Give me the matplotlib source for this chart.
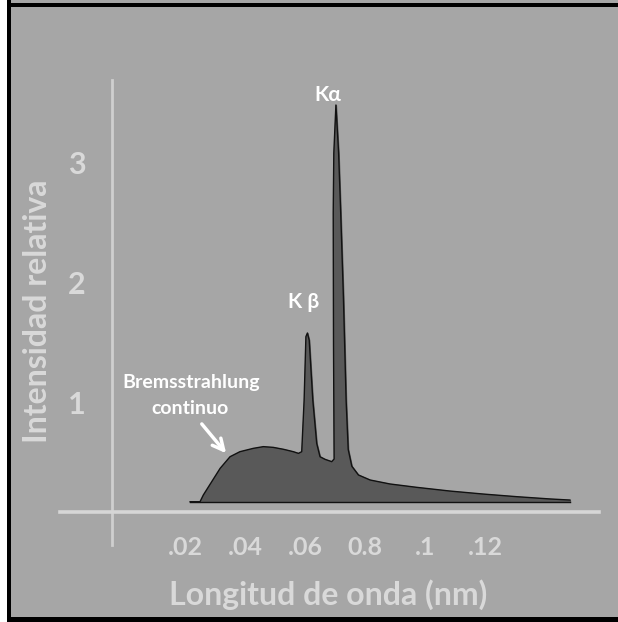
import matplotlib.pyplot as plt
from matplotlib.patches import Rectangle

# Espectro de rayos X: longitud de onda (nm) vs intensidad relativa
wavelength = [0.0217, 0.0250, 0.0261, 0.0289, 0.0317, 0.0350, 0.0383, 0.0428,
              0.0461, 0.0494, 0.0528, 0.0561, 0.0578, 0.0589,
              0.0597, 0.0603, 0.0608, 0.0614, 0.0626, 0.0639, 0.0650,
              0.0667, 0.0689, 0.0697,
              0.0695, 0.0694, 0.0696, 0.0703, 0.0712, 0.0719, 0.0728,
              0.0737, 0.0744, 0.0756,
              0.0778, 0.0817, 0.0883, 0.0972, 0.1083, 0.1194, 0.1306,
              0.1417, 0.1483]
intensity = [0.194, 0.194, 0.250, 0.361, 0.472, 0.569, 0.611, 0.639,
             0.653, 0.647, 0.631, 0.611, 0.597, 0.611,
             1.04, 1.57, 1.60, 1.54, 1.04, 0.68, 0.569,
             0.547, 0.528, 0.55,
             1.5, 2.6, 3.1, 3.5, 3.1, 2.6, 1.9,
             1.04, 0.63, 0.49,
             0.417, 0.375, 0.342, 0.314, 0.283, 0.258, 0.236,
             0.217, 0.208]
baseline = 0.194

x_ticks = [0.02, 0.04, 0.06, 0.08, 0.10, 0.12]
x_tick_labels = ['.02', '.04', '.06', '0.8', '.1', '.12']
y_ticks = [1, 2, 3]

bg = '#a6a6a6'
light = '#d9d9d9'
font = 'Lato'

fig = plt.figure(figsize=(6.18, 6.22), dpi=100)
fig.set_facecolor(bg)
ax = fig.add_axes([0, 0, 1, 1])
ax.set_facecolor(bg)
ax.set_xlim(-0.04167, 0.16433)
ax.set_ylim(-0.8083, 4.375)
ax.axis('off')

# marco de la imagen (izquierda, arriba y abajo)
fig.patches.append(Rectangle((0, 0), 7 / 618, 1, transform=fig.transFigure,
                             facecolor='white', edgecolor='none', zorder=0))
fig.patches.append(Rectangle((7 / 618, 0), 4 / 618, 1, transform=fig.transFigure,
                             facecolor='black', edgecolor='none', zorder=1))
fig.patches.append(Rectangle((7 / 618, 1 - 7 / 622), 2, 4 / 622, transform=fig.transFigure,
                             facecolor='black', edgecolor='none', zorder=1))
fig.patches.append(Rectangle((7 / 618, 0), 2, 5 / 622, transform=fig.transFigure,
                             facecolor='black', edgecolor='none', zorder=1))

# ejes dibujados a mano
ax.plot([-0.0043, -0.0043], [-0.167, 3.71], color='#cfcfcf', lw=2.0, zorder=1)
ax.plot([-0.0217, 0.158], [0.108, 0.108], color='#d6d6d6', lw=2.6, zorder=1)

# espectro
ax.fill_between(wavelength, baseline, intensity, color='#595959', zorder=2)
ax.plot(wavelength, intensity, color='#111111', lw=1.0, zorder=3)
ax.plot([wavelength[0], wavelength[-1]], [baseline, baseline], color='#111111', lw=1.0, zorder=3)

# etiquetas de los ejes
for v, lab in zip(x_ticks, x_tick_labels):
    ax.text(v, -0.19, lab, ha='center', va='center', color=light,
            fontsize=18, family=font, fontweight='bold')
for v in y_ticks:
    ax.text(-0.016, v, str(v), ha='center', va='center', color=light,
            fontsize=22, family=font, fontweight='bold')

ax.text(0.0677, -0.58, 'Longitud de onda (nm)', ha='center', va='center',
        color=light, fontsize=23, family=font, fontweight='bold')
ax.text(-0.0293, 1.78, 'Intensidad relativa', ha='center', va='center',
        rotation=90, color=light, fontsize=23, family=font, fontweight='bold')

# anotaciones
ax.text(0.0677, 3.58, 'Kα', ha='center', va='center', color='white',
        fontsize=15, family=font, fontweight='bold')
ax.text(0.0597, 1.86, 'K β', ha='center', va='center', color='white',
        fontsize=15, family=font, fontweight='bold')
ax.text(0.0220, 1.19, 'Bremsstrahlung', ha='center', va='center', color='white',
        fontsize=14, family=font, fontweight='bold')
ax.text(0.0217, 0.975, 'continuo', ha='center', va='center', color='white',
        fontsize=14, family=font, fontweight='bold')
ax.annotate('', xy=(0.0343, 0.58), xytext=(0.0250, 0.86),
            arrowprops=dict(arrowstyle='->', color='white', lw=2.5, mutation_scale=20))

fig.savefig('out.png', dpi=100, facecolor=bg)
